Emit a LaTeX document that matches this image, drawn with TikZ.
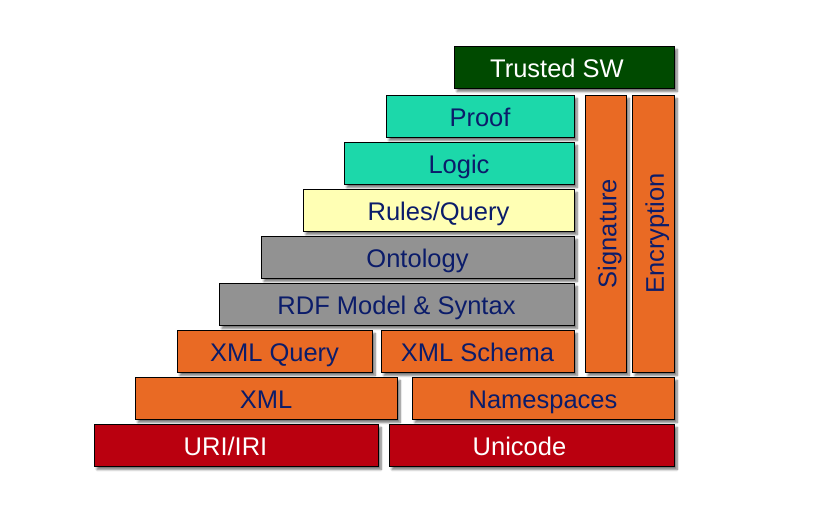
\documentclass[tikz,border=0pt]{standalone}
\usepackage{fontspec}
\setmainfont{Liberation Sans}
\usetikzlibrary{shadows.blur}

\definecolor{trustgreen}{HTML}{004A00}
\definecolor{logicteal}{HTML}{1CD8AA}
\definecolor{rulesyellow}{HTML}{FFFFB4}
\definecolor{rdfgray}{HTML}{929292}
\definecolor{xmlorange}{HTML}{E96A24}
\definecolor{urired}{HTML}{BA000F}
\definecolor{labelnavy}{HTML}{0B1C6A}

\begin{document}
\begin{tikzpicture}[x=1pt,y=1pt,
		layer/.style={draw=black,line width=0.9pt,inner sep=0pt,minimum height=42pt,
			text height=21.5pt,text depth=0pt,text=labelnavy,
			font=\fontsize{25.5}{30}\selectfont,
			blur shadow={shadow xshift=3pt,shadow yshift=-3.5pt,shadow blur steps=8,shadow opacity=55}},
		pillar/.style={layer,minimum width=277pt,rotate=90}]
		\useasboundingbox (0,0) rectangle (836,515);
		% top of the stack
		\node[layer,fill=trustgreen,text=white,minimum width=220pt] (trusted) at (564,448) {Trusted SW\hspace*{14pt}};
		\node[layer,fill=logicteal,minimum width=188pt] (proof) at (480,399) {Proof};
		\node[layer,fill=logicteal,minimum width=230pt] (logic) at (459,352) {Logic};
		\node[layer,fill=rulesyellow,minimum width=271pt] (rules) at (438.5,305) {Rules/Query};
		\node[layer,fill=rdfgray,minimum width=313pt] (ontology) at (417.5,258) {Ontology};
		\node[layer,fill=rdfgray,minimum width=355pt] (rdf) at (396.5,211) {RDF Model \& Syntax};
		% xml layers
		\node[layer,fill=xmlorange,minimum width=195pt] (xmlquery) at (274.5,164) {XML Query};
		\node[layer,fill=xmlorange,minimum width=193pt] (xmlschema) at (477.5,164) {XML Schema};
		\node[layer,fill=xmlorange,minimum width=262pt] (xml) at (266,117) {XML};
		\node[layer,fill=xmlorange,minimum width=262pt] (namespaces) at (543,117) {Namespaces};
		% base
		\node[layer,fill=urired,text=white,minimum width=284pt] (uri) at (236,70) {URI/IRI\hspace*{21pt}};
		\node[layer,fill=urired,text=white,minimum width=285pt] (unicode) at (531.5,70) {Unicode\hspace*{24pt}};
		% side pillars
		\node[pillar,fill=xmlorange,minimum height=41pt] (signature) at (605.5,281.5) {Signature};
		\node[pillar,fill=xmlorange] (encryption) at (653,281.5) {Encryption};
	\end{tikzpicture}
\end{document}
